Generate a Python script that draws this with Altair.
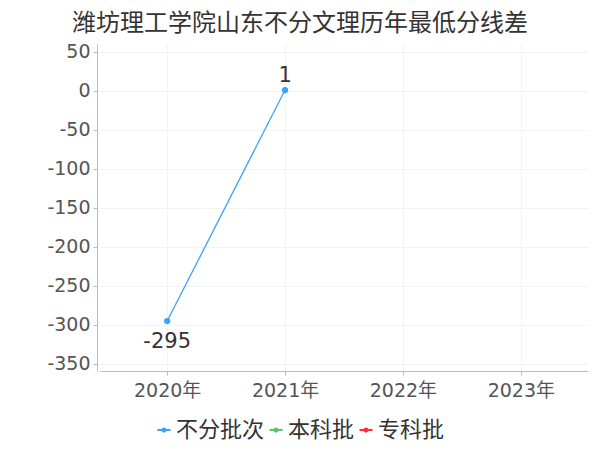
import altair as alt
import pandas as pd

title_text = "潍坊理工学院山东不分文理历年最低分线差"
years = ["2020年", "2021年", "2022年", "2023年"]
series_names = ["不分批次", "本科批", "专科批"]
series_colors = ["#3fa0ff", "#5cc16a", "#ff2a3a"]
y_ticks = [50, 0, -50, -100, -150, -200, -250, -300, -350]

s1_years = ["2020年", "2021年"]
s1_values = [-295, 1]

df = pd.DataFrame({
    "year": s1_years,
    "value": s1_values,
    "series": ["不分批次"] * len(s1_years),
})

num_font = "DejaVu Sans, Noto Sans CJK SC"
cjk_font = "Noto Sans CJK SC"

x_enc = alt.X(
    "year:N",
    scale=alt.Scale(domain=years, type="point", padding=0.57),
    axis=alt.Axis(
        title=None, labelAngle=0, labelFontSize=19, labelColor="#555555",
        labelFont=num_font, domainColor="#bbbbbb", tickColor="#bbbbbb",
        tickSize=4, labelPadding=6, grid=True, gridColor="#f3f3f3",
    ),
)
y_enc = alt.Y(
    "value:Q",
    scale=alt.Scale(domain=[-359, 60], nice=False, zero=False),
    axis=alt.Axis(
        title=None, values=y_ticks, labelFontSize=19, labelColor="#555555",
        labelFont=num_font, domainColor="#bbbbbb", tickColor="#bbbbbb",
        tickSize=4, labelPadding=3, grid=True, gridColor="#f3f3f3", offset=3,
        labelExpr="'' + datum.value",
    ),
)

color_scale = alt.Scale(domain=series_names, range=series_colors)

legend_symbol = "M-1,0L1,0 M-0.25,0A0.25,0.25 0 1,0 0.25,0A0.25,0.25 0 1,0 -0.25,0Z"

base = alt.Chart(df).transform_calculate(label="'' + datum.value")

color_enc = alt.Color(
    "series:N", scale=color_scale,
    legend=alt.Legend(
        title=None, orient="bottom", direction="horizontal",
        symbolType=legend_symbol, symbolSize=169, symbolStrokeWidth=2,
        labelFontSize=22, labelFont=cjk_font,
        labelColor="#333333", labelOffset=1, columnPadding=0,
        padding=53, offset=-34,
    ),
)

points = base.mark_point(filled=True, size=40, opacity=1).encode(
    x=x_enc, y=y_enc, color=color_enc
)

line = base.mark_line(strokeWidth=1.3).encode(x=x_enc, y=y_enc, color=color_enc)

label_above = base.transform_filter("datum.value >= 0").mark_text(
    fontSize=21, font=num_font, color="#333333", dy=-4, baseline="bottom"
).encode(x=x_enc, y=y_enc, text="label:N")

label_below = base.transform_filter("datum.value < 0").mark_text(
    fontSize=21, font=num_font, color="#333333", dy=10, baseline="top"
).encode(x=x_enc, y=y_enc, text="label:N")

chart = (
    alt.layer(points, line, label_above, label_below)
    .properties(
        width=488, height=327,
        autosize=alt.AutoSizeParams(type="none"),
        padding={"left": 92, "top": 36, "right": 4, "bottom": 80},
        title=alt.Title(
            title_text, fontSize=24, font=cjk_font, color="#333333",
            fontWeight="normal", anchor="middle", dx=-44, offset=7,
        ),
    )
    .configure_view(stroke=None)
)

chart.save("out.html", embed_options={"renderer": "svg", "actions": False})
